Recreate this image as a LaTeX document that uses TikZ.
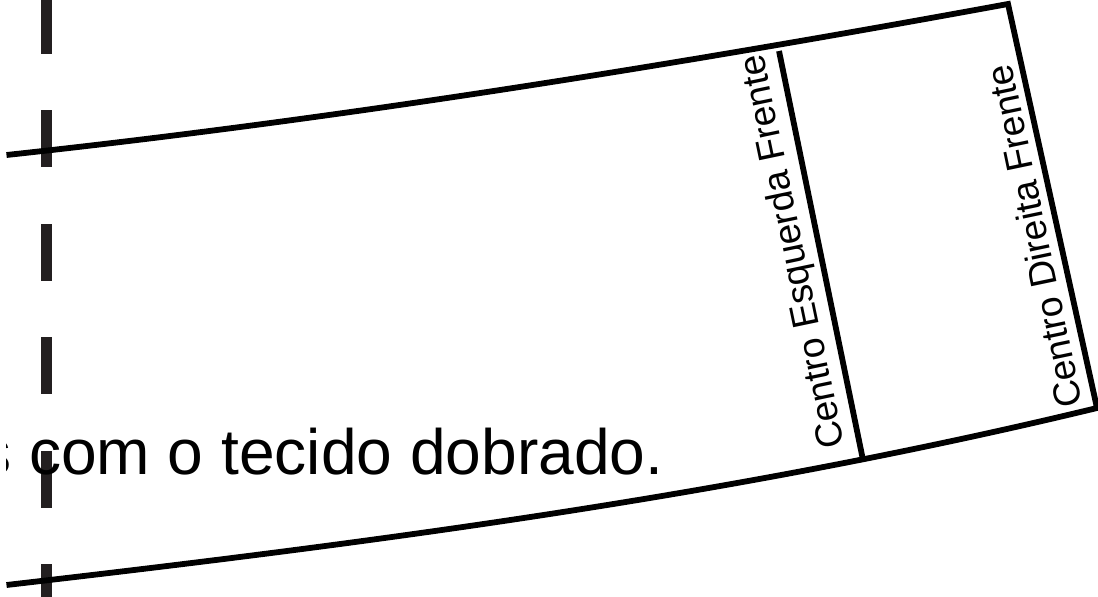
\documentclass[tikz,border=0pt]{standalone}
\usepackage{fontspec}
\setmainfont{Liberation Sans}
\definecolor{markdark}{HTML}{231F20}
\tikzset{
  seam/.style={draw=black, line width=5.8pt, miter limit=10},
  biglabel/.style={inner sep=0pt, anchor=base west, font=\fontsize{64.1pt}{70pt}\selectfont},
  sidelabel/.style={inner sep=0pt, anchor=base west, rotate=101.8, font=\fontsize{37.4pt}{42pt}\selectfont}
}
\begin{document}
\begin{tikzpicture}[x=1pt,y=1pt]
\useasboundingbox (0,-597) rectangle (1098,0);
\clip (0,-597) rectangle (1098,0);
\foreach \a/\b in {-10/54,110/167,224/281,337/394,451/508,564/610}
  \fill[markdark] (40.5,-\a) rectangle (52,-\b);
\begin{scope}
\clip (6,-520) rectangle (700,-400);
\node[biglabel] (fold) at (-21,-474) {s com o tecido dobrado.};
\end{scope}
\node[sidelabel] (esq) at (845,-446) {Centro Esquerda Frente};
\node[sidelabel] (dir) at (1083,-405) {Centro Direita Frente};
\coordinate (tl) at (6.5,-155);
\coordinate (tr) at (1008,-4);
\coordinate (bl) at (6.5,-585);
\coordinate (br) at (1097,-408);
\coordinate (mt) at (779,-51);
\coordinate (mb) at (863,-460);
\draw[seam] (tl) .. controls (340,-119) and (675,-65) .. (tr) -- (br) .. controls (733,-496) and (370,-543) .. (bl);
\draw[seam] (mt) -- (mb);
\end{tikzpicture}
\end{document}
